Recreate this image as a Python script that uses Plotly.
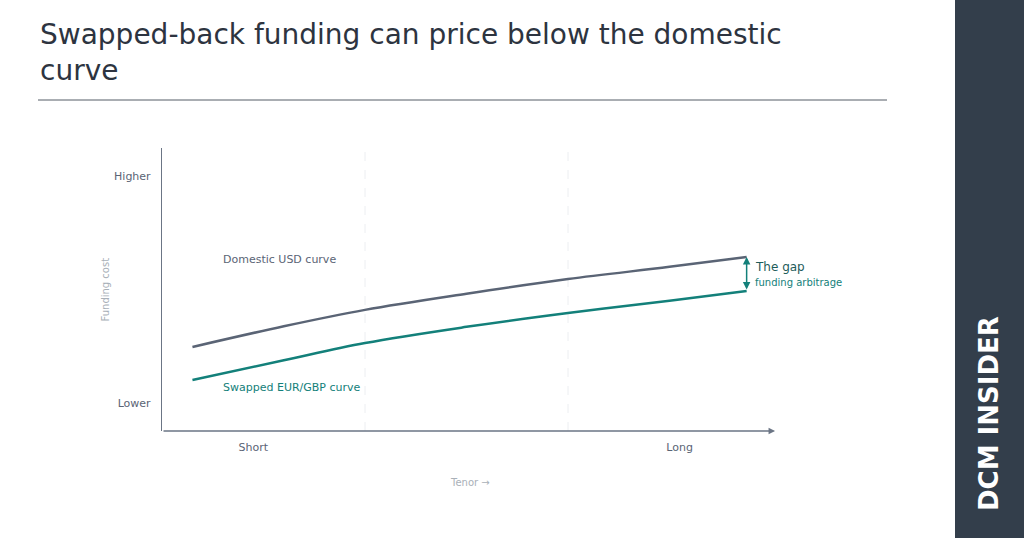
import plotly.graph_objects as go

tenor = [0.15, 0.6, 1.0, 1.5, 2.0, 2.5, 2.88]
domestic = [2.97, 3.7, 4.28, 4.85, 5.37, 5.8, 6.15]
swapped = [1.8, 2.5, 3.11, 3.68, 4.17, 4.6, 4.95]
x_tick_vals = [0.45, 2.55]
x_tick_text = ["Short", "Long"]
y_tick_vals = [1, 9]
y_tick_text = ["Lower", "Higher"]

GREY = "#5a6475"
TEAL = "#13807a"
FONT = "DejaVu Sans, sans-serif"

fig = go.Figure()
fig.add_trace(go.Scatter(x=tenor, y=domestic, mode="lines", line=dict(color=GREY, width=2.5, shape="spline"), hoverinfo="skip"))
fig.add_trace(go.Scatter(x=tenor, y=swapped, mode="lines", line=dict(color=TEAL, width=2.5, shape="spline"), hoverinfo="skip"))

for gx in [1, 2]:
    fig.add_shape(type="line", x0=gx, x1=gx, y0=0, y1=10, xref="x", yref="y",
                  line=dict(color="#eceef1", width=1, dash="dash"), layer="below")

fig.add_annotation(x=3.02, y=0, ax=0, ay=0, xref="x", yref="y", axref="x", ayref="y",
                   showarrow=True, arrowhead=2, arrowsize=1, arrowwidth=1.3, arrowcolor="#6b7585", text="")
fig.add_annotation(x=tenor[-1], y=domestic[-1], ax=tenor[-1], ay=swapped[-1], xref="x", yref="y",
                   axref="x", ayref="y", showarrow=True, arrowhead=2, arrowside="end+start",
                   arrowsize=1, arrowwidth=1.5, arrowcolor=TEAL, text="")
fig.add_annotation(x=2.91, y=5.8, xref="x", yref="y", text="The gap", showarrow=False,
                   xanchor="left", font=dict(color="#1e5c5a", size=12, family=FONT))
fig.add_annotation(x=2.91, y=5.25, xref="x", yref="y", text="funding arbitrage", showarrow=False,
                   xanchor="left", font=dict(color=TEAL, size=10, family=FONT))
fig.add_annotation(x=0.29, y=6.05, xref="x", yref="y", text="Domestic USD curve", showarrow=False,
                   xanchor="left", font=dict(color=GREY, size=11, family=FONT))
fig.add_annotation(x=0.29, y=1.55, xref="x", yref="y", text="Swapped EUR/GBP curve", showarrow=False,
                   xanchor="left", font=dict(color=TEAL, size=11, family=FONT))

fig.add_annotation(x=38/1024, y=1-16/538, xref="paper", yref="paper", xanchor="left", yanchor="top",
                   align="left", showarrow=False,
                   text="Swapped-back funding can price below the domestic<br>curve",
                   font=dict(size=28, color="#2d3440", family=FONT))
fig.add_shape(type="line", xref="paper", yref="paper", x0=38/1024, x1=887/1024, y0=1-100/538, y1=1-100/538,
              line=dict(color="#555c66", width=1))
fig.add_shape(type="rect", xref="paper", yref="paper", x0=955/1024, x1=1, y0=0, y1=1,
              fillcolor="#333e4b", line=dict(width=0))
fig.add_annotation(x=989/1024, y=1-414/538, xref="paper", yref="paper", text="DCM INSIDER",
                   xanchor="center", yanchor="middle",
                   textangle=-90, showarrow=False,
                   font=dict(size=26, color="white", family="DejaVu Sans", weight="bold"))
fig.add_annotation(x=470/1024, y=1-490/538, xref="paper", yref="paper", text="Tenor →", showarrow=False,
                   font=dict(size=10, color="#a9b0b8", family=FONT))
fig.add_annotation(x=97/1024, y=1-290/538, xref="paper", yref="paper", text="Funding cost", textangle=-90,
                   showarrow=False, font=dict(size=10, color="#a9b0b8", family=FONT))

fig.update_layout(
    width=1024, height=538, margin=dict(l=0, r=0, t=0, b=0),
    paper_bgcolor="white", plot_bgcolor="white", showlegend=False,
    xaxis=dict(domain=[162/1024, 771/1024], range=[0, 3], showgrid=False, zeroline=False,
               showline=False, tickvals=x_tick_vals, ticktext=x_tick_text, ticks="",
               ticklabelstandoff=8,
               tickfont=dict(size=11, color=GREY, family=FONT), fixedrange=True),
    yaxis=dict(domain=[1-431/538, 1-148/538], range=[0, 10], showgrid=False, zeroline=False,
               showline=True, linecolor="#6b7585", linewidth=1.3, tickvals=y_tick_vals,
               ticktext=y_tick_text, ticks="", ticklabelstandoff=8,
               tickfont=dict(size=11, color=GREY, family=FONT), fixedrange=True),
)
fig.write_html("out.html", config={"displayModeBar": False},
               post_script="document.body.style.margin='0';document.body.style.overflow='hidden';")
